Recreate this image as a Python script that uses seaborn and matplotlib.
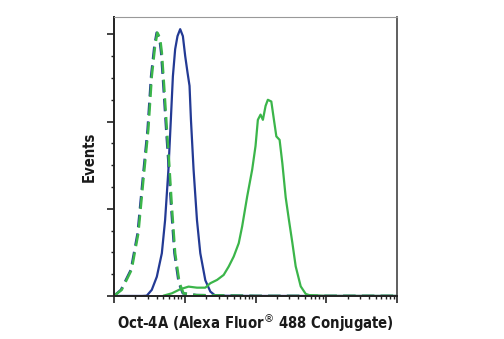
import numpy as np
import pandas as pd
import matplotlib
matplotlib.use("Agg")
import matplotlib.pyplot as plt
import seaborn as sns
from matplotlib.ticker import LogLocator, MultipleLocator, NullFormatter

# ---- data (x as log10 fluorescence, y as events) ----
dash_green_logx = [0.00, 0.11, 0.25, 0.345, 0.416, 0.486, 0.535, 0.582, 0.614, 0.652, 0.677,
                   0.709, 0.748, 0.780, 0.818, 0.865, 0.926, 0.983, 1.17, 2.0, 3.0, 4.0]
dash_green_y = [0, 7, 30, 72, 133, 191, 252, 287, 302, 296, 279,
                241, 191, 153, 103, 49, 15, 3, 1, 0, 0, 0]

dash_blue_logx = [0.00, 0.10, 0.24, 0.335, 0.406, 0.476, 0.525, 0.572, 0.604, 0.642, 0.667,
                  0.699, 0.738, 0.770, 0.808, 0.855, 0.916, 0.973, 1.16, 2.0, 3.0, 4.0]
dash_blue_y = [0, 7, 30, 72, 133, 191, 252, 287, 302, 296, 279,
               241, 191, 153, 103, 49, 15, 3, 1, 0, 0, 0]

blue_logx = [0.0, 0.40, 0.464, 0.535, 0.606, 0.677, 0.723, 0.770, 0.804, 0.833, 0.865, 0.898,
             0.936, 0.974, 1.007, 1.040, 1.068, 1.088, 1.125, 1.173, 1.220, 1.291,
             1.362, 1.433, 2.0, 3.0, 4.0]
blue_y = [0, 0, 0.3, 7, 22, 49, 87, 145, 202, 252, 283, 298,
          306, 298, 275, 256, 241, 202, 145, 87, 49, 18,
          5, 0.3, 0, 0, 0]

green_logx = [0.699, 0.818, 0.936, 1.054, 1.173, 1.291, 1.362, 1.457, 1.550, 1.621, 1.692,
              1.763, 1.811, 1.882, 1.953, 2.000, 2.033, 2.071, 2.104, 2.142, 2.174, 2.223,
              2.260, 2.294, 2.340, 2.379, 2.426, 2.472, 2.520, 2.567, 2.638, 2.709, 2.756,
              3.0, 4.0]
green_y = [0.3, 3, 7.7, 10.7, 9.5, 9.5, 14.6, 18.4, 24.1, 33.7, 45.2,
           60.5, 79.7, 114, 145, 172, 202, 208, 202, 218, 225, 223,
           202, 183, 179, 152, 113, 87, 61, 34, 11, 2.3, 1,
           0, 0]

BLUE = "#233a94"
GREEN = "#3bb54a"

sns.set_style("ticks")
plt.rcParams["font.family"] = ["DejaVu Sans"]
plt.rcParams["mathtext.fontset"] = "dejavusans"

fig = plt.figure(figsize=(5.04, 3.39), dpi=100)
ax = fig.add_axes([0.226, 0.127, 0.562, 0.823])

def frame(lx, y):
    return pd.DataFrame({"x": 10 ** np.asarray(lx, float), "y": y})

sns.lineplot(data=frame(blue_logx, blue_y), x="x", y="y", ax=ax, color=BLUE,
             lw=1.6, sort=False, estimator=None)
sns.lineplot(data=frame(dash_blue_logx, dash_blue_y), x="x", y="y", ax=ax, color=BLUE,
             lw=1.8, sort=False, estimator=None, linestyle=(0, (5, 2.5)))
sns.lineplot(data=frame(dash_green_logx, dash_green_y), x="x", y="y", ax=ax, color=GREEN,
             lw=1.8, sort=False, estimator=None, linestyle=(0, (5, 2.5)))
sns.lineplot(data=frame(green_logx, green_y), x="x", y="y", ax=ax, color=GREEN,
             lw=1.6, sort=False, estimator=None)

ax.set_xscale("log")
ax.set_xlim(1, 1e4)
ax.set_ylim(0, 320)

ax.xaxis.set_major_locator(LogLocator(base=10))
ax.xaxis.set_minor_locator(LogLocator(base=10, subs=np.arange(2, 10)))
ax.xaxis.set_major_formatter(NullFormatter())
ax.xaxis.set_minor_formatter(NullFormatter())
ax.yaxis.set_major_locator(MultipleLocator(100))
ax.yaxis.set_minor_locator(MultipleLocator(25))
ax.yaxis.set_major_formatter(NullFormatter())

ax.tick_params(axis="both", which="major", direction="out", length=5, width=1.2, color="#222222")
ax.tick_params(axis="both", which="minor", direction="out", length=2.5, width=1.0, color="#222222")

for side in ["left", "bottom"]:
    ax.spines[side].set_color("#222222")
    ax.spines[side].set_linewidth(1.4)
ax.spines["right"].set_visible(True)
ax.spines["top"].set_visible(True)
ax.spines["right"].set_color("#444444")
ax.spines["right"].set_linewidth(1.2)
ax.spines["top"].set_color("#999999")
ax.spines["top"].set_linewidth(0.8)

ax.set_xlabel("Oct-4A (Alexa Fluor$^{\\circledR}$ 488 Conjugate)", fontsize=10.6,
              fontweight="bold", fontstretch="condensed", color="#1a1a1a", labelpad=3)
ax.set_ylabel("Events", fontsize=10.6, fontweight="bold", fontstretch="condensed",
              color="#1a1a1a", labelpad=4)

fig.savefig("out.png", dpi=100)
